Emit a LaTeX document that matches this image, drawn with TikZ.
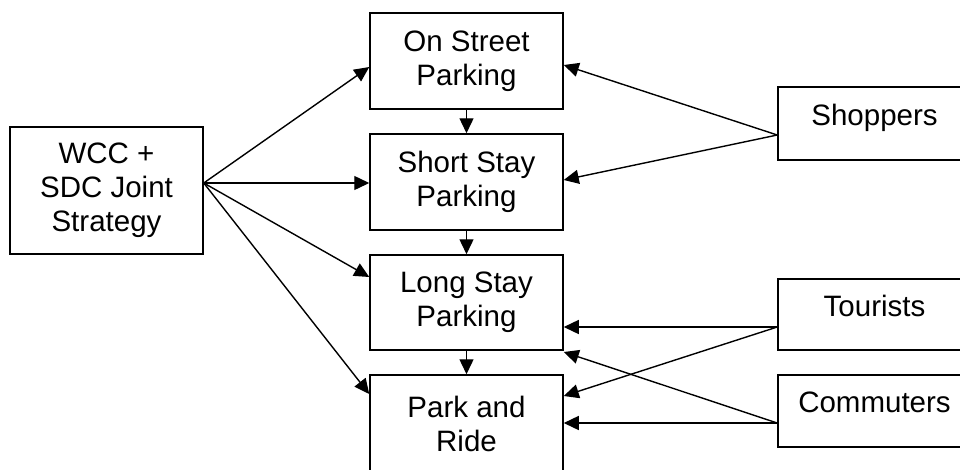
\documentclass[tikz,border=0pt]{standalone}
\usepackage{fontspec}
\setmainfont{Liberation Sans}
\usetikzlibrary{arrows.meta}
\begin{document}
\begin{tikzpicture}[x=1pt,y=-1pt,
  box/.style={draw,line width=1.5pt,rectangle,inner sep=0pt,minimum width=193pt,align=center,
    font=\fontsize{29.5}{34}\selectfont},
  sidebox/.style={box,text depth=17pt},
  conn/.style={line width=1.4pt,-{Triangle[length=15pt,width=14pt]}}]
\useasboundingbox (0,0) rectangle (960,469);
\node[box,minimum height=127pt] (wcc) at (106.5,190.5) {WCC +\\SDC Joint\\Strategy};
\node[box,minimum height=96pt] (ons) at (466.5,61) {On Street\\Parking};
\node[box,minimum height=96pt] (sho) at (466.5,182) {Short Stay\\Parking};
\node[box,minimum height=95pt] (lon) at (466.5,302.5) {Long Stay\\Parking};
\node[box,minimum height=97pt] (par) at (466.5,423.5) {Park and\\Ride};
\node[sidebox,minimum height=73pt] (shop) at (874.5,123.5) {Shoppers};
\node[sidebox,minimum height=71pt] (tour) at (874.5,314.5) {Tourists};
\node[sidebox,minimum height=72pt] (comm) at (874.5,411) {Commuters};
% strategy arrows
\draw[conn] ([yshift=7.5pt]wcc.east) -- ([yshift=-6pt]ons.west);
\draw[conn] ([yshift=7.5pt]wcc.east) -- ([yshift=-1pt]sho.west);
\draw[conn] ([yshift=7.5pt]wcc.east) -- ([yshift=25.5pt]lon.west);
\draw[conn] ([yshift=7.5pt]wcc.east) -- ([yshift=29.5pt]par.west);
% vertical arrows
\draw[conn] (ons.south) -- (sho.north);
\draw[conn] (sho.south) -- (lon.north);
\draw[conn] (lon.south) -- (par.north);
% user arrows
\draw[conn] ([yshift=-11.5pt]shop.west) -- ([yshift=-4pt]ons.east);
\draw[conn] ([yshift=-11.5pt]shop.west) -- ([yshift=2pt]sho.east);
\draw[conn] ([yshift=-12.5pt]tour.west) -- ([yshift=-24.5pt]lon.east);
\draw[conn] ([yshift=-12.5pt]tour.west) -- ([yshift=27.5pt]par.east);
\draw[conn] ([yshift=-12pt]comm.west) -- ([yshift=0.5pt]par.east);
\draw[conn] ([yshift=-12pt]comm.west) -- ([yshift=-49.5pt]lon.east);
\end{tikzpicture}
\end{document}
